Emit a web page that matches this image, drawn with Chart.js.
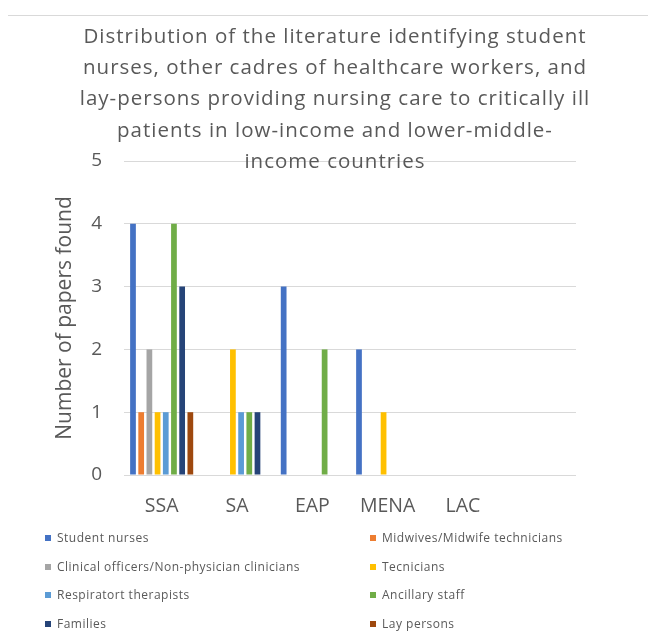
<!DOCTYPE html>
<html>
<head>
<meta charset="utf-8">
<script src="https://cdn.jsdelivr.net/npm/chart.js@4.4.1/dist/chart.umd.min.js"></script>
<style>
  html, body { margin: 0; padding: 0; background: #fff; }
  #wrap { position: relative; width: 648px; height: 634px; overflow: hidden; }
  #topline { position: absolute; left: 8px; right: 0; top: 15px; border-top: 1px solid #d9d9d9; }
  #chart { position: absolute; left: 0; top: 0; }
  #legend { position: absolute; left: 0; top: 0; width: 648px; height: 634px; font-family: "Open Sans", sans-serif; font-size: 12px; letter-spacing: 0.5px; color: #595959; }
  .li { position: absolute; white-space: nowrap; height: 16px; line-height: 16px; }
  .li span.box { position: absolute; left: 0; top: 5px; width: 6px; height: 6px; }
  .li span.txt { position: absolute; left: 12px; top: 0; }
</style>
</head>
<body>
<div id="wrap">
  <div id="topline"></div>
  <canvas id="chart" width="648" height="634"></canvas>
  <div id="legend"></div>
</div>
<script>
// ---- data ----
const categories = ['SSA', 'SA', 'EAP', 'MENA', 'LAC', ''];
const seriesNames = [
  'Student nurses',
  'Midwives/Midwife technicians',
  'Clinical officers/Non-physician clinicians',
  'Tecnicians',
  'Respiratort therapists',
  'Ancillary staff',
  'Families',
  'Lay persons'
];
const studentNurses   = [4, 0, 3, 2, 0, 0];
const midwives        = [1, 0, 0, 0, 0, 0];
const clinicalOfficers= [2, 0, 0, 0, 0, 0];
const tecnicians      = [1, 2, 0, 1, 0, 0];
const respiratory     = [1, 1, 0, 0, 0, 0];
const ancillary       = [4, 1, 2, 0, 0, 0];
const families        = [3, 1, 0, 0, 0, 0];
const layPersons      = [1, 0, 0, 0, 0, 0];
const yTicks = [0, 1, 2, 3, 4, 5];
const titleLines = [
  'Distribution of the literature identifying student',
  'nurses, other cadres of healthcare workers, and',
  'lay-persons providing nursing care to critically ill',
  'patients in low-income and lower-middle-',
  'income countries'
];
const yTitle = 'Number of papers found';

// ---- styles ----
const colors = ['#4472C4', '#ED7D31', '#A5A5A5', '#FFC000', '#5B9BD5', '#70AD47', '#264478', '#9E480E'];
const seriesValues = [studentNurses, midwives, clinicalOfficers, tecnicians, respiratory, ancillary, families, layPersons];
const textColor = '#595959';
const fontFamily = '"Open Sans", sans-serif';

const datasets = seriesNames.map((name, i) => ({
  label: name,
  data: seriesValues[i],
  backgroundColor: colors[i],
  borderWidth: 0,
  categoryPercentage: 0.87,
  barPercentage: 0.7
}));

const titlePlugin = {
  id: 'multiTitle',
  afterDraw(chart) {
    const ctx = chart.ctx;
    ctx.save();
    ctx.fillStyle = textColor;
    ctx.font = '20.5px ' + fontFamily;
    if ('letterSpacing' in ctx) ctx.letterSpacing = '1px';
    ctx.textAlign = 'center';
    ctx.textBaseline = 'middle';
    titleLines.forEach((t, i) => ctx.fillText(t, 335, 37 + i * 31.3));
    ctx.restore();
  }
};

new Chart(document.getElementById('chart'), {
  type: 'bar',
  data: { labels: categories, datasets },
  plugins: [titlePlugin],
  options: {
    responsive: false,
    animation: false,
    layout: { padding: { top: 161, right: 72, bottom: 119, left: 0 } },
    plugins: { legend: { display: false }, tooltip: { enabled: false }, title: { display: false } },
    scales: {
      x: {
        grid: { display: false },
        border: { display: false },
        ticks: { color: textColor, font: { family: fontFamily, size: 19.5 }, padding: 12, maxRotation: 0, autoSkip: false },
        afterFit(scale) { scale.height = 40; }
      },
      y: {
        min: 0, max: 5,
        afterBuildTicks(scale) { scale.ticks = yTicks.map(v => ({ value: v })); },
        grid: { color: '#d9d9d9', drawTicks: false },
        border: { display: false },
        ticks: { color: textColor, font: { family: fontFamily, size: 19 }, padding: 22 },
        title: { display: true, text: yTitle, color: textColor, font: { family: fontFamily, size: 21 }, padding: { top: 52, bottom: 0 } },
        afterFit(scale) { scale.width = 124; }
      }
    }
  }
});

// ---- legend (HTML) ----
const legend = document.getElementById('legend');
seriesNames.forEach((name, i) => {
  const row = Math.floor(i / 2), col = i % 2;
  const el = document.createElement('div');
  el.className = 'li';
  el.style.left = (col === 0 ? 45 : 370) + 'px';
  el.style.top = (538 - 8 + row * 28.5) + 'px';
  const box = document.createElement('span');
  box.className = 'box';
  box.style.background = colors[i];
  const txt = document.createElement('span');
  txt.className = 'txt';
  txt.textContent = name;
  el.appendChild(box);
  el.appendChild(txt);
  legend.appendChild(el);
});
</script>
</body>
</html>
